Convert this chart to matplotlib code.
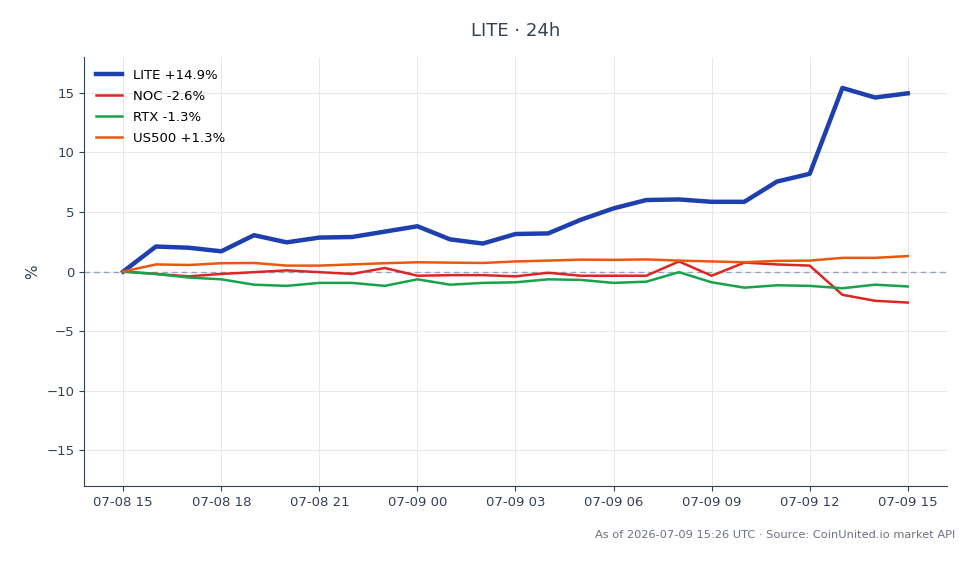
import numpy as np
import pandas as pd
import matplotlib
matplotlib.use('Agg')
import matplotlib.pyplot as plt
import matplotlib.dates as mdates

# hourly % change vs. start, 07-08 15:00 -> 07-09 15:00
times = pd.date_range('2026-07-08 15:00', '2026-07-09 15:00', freq='h')

lite = [0.0, 2.1, 2.0, 1.7, 3.05, 2.45, 2.85, 2.9, 3.35, 3.8, 2.7, 2.35, 3.15,
        3.2, 4.35, 5.3, 6.0, 6.05, 5.85, 5.85, 7.55, 8.2, 15.4, 14.6, 14.95]
noc = [0.0, -0.2, -0.4, -0.2, -0.05, 0.1, -0.05, -0.2, 0.3, -0.35, -0.3, -0.3, -0.4,
       -0.1, -0.35, -0.35, -0.35, 0.85, -0.35, 0.75, 0.6, 0.5, -1.95, -2.45, -2.6]
rtx = [0.0, -0.2, -0.5, -0.65, -1.1, -1.2, -0.95, -0.95, -1.2, -0.65, -1.1, -0.95, -0.9,
       -0.65, -0.7, -0.95, -0.85, -0.05, -0.9, -1.35, -1.15, -1.2, -1.4, -1.1, -1.25]
us500 = [0.0, 0.6, 0.55, 0.7, 0.72, 0.5, 0.5, 0.6, 0.7, 0.78, 0.75, 0.72, 0.85,
         0.92, 1.0, 0.98, 1.02, 0.92, 0.85, 0.78, 0.9, 0.92, 1.15, 1.15, 1.3]

labels = ['LITE +14.9%', 'NOC -2.6%', 'RTX -1.3%', 'US500 +1.3%']
colors = ['#1e40af', '#dc2626', '#16a34a', '#ea580c']
widths = [3.2, 1.8, 1.8, 1.8]

fig = plt.figure(figsize=(9.79, 5.64), dpi=100)
ax = fig.add_axes([0.0858, 0.138, 0.8815, 0.761])

for series, lab, col, lw in zip([lite, noc, rtx, us500], labels, colors, widths):
    ax.plot(times, series, color=col, linewidth=lw, label=lab, zorder=3)

ax.axhline(0, color='#94a3b8', linestyle=(0, (4, 3)), linewidth=1, zorder=2)

ax.set_ylim(-18, 18)
ax.set_yticks([-15, -10, -5, 0, 5, 10, 15])
ax.xaxis.set_major_locator(mdates.HourLocator(byhour=[0, 3, 6, 9, 12, 15, 18, 21]))
ax.xaxis.set_major_formatter(mdates.DateFormatter('%m-%d %H'))

ax.grid(True, color='#e5e7eb', linewidth=0.7, zorder=0)
ax.set_axisbelow(True)
for side in ['top', 'right']:
    ax.spines[side].set_visible(False)
for side in ['left', 'bottom']:
    ax.spines[side].set_color('#334155')
ax.tick_params(colors='#334155', labelsize=9.5)
ax.set_ylabel('%', color='#334155', fontsize=11)

ax.legend(loc='upper left', frameon=False, fontsize=9.5, labelspacing=0.6)

fig.text(0.527, 0.945, 'LITE · 24h', ha='center', va='center', fontsize=13, color='#334155')
fig.text(0.976, 0.052, 'As of 2026-07-09 15:26 UTC · Source: CoinUnited.io market API',
         ha='right', va='center', fontsize=8.2, color='#6b7280')

fig.savefig('out.png', dpi=100)
